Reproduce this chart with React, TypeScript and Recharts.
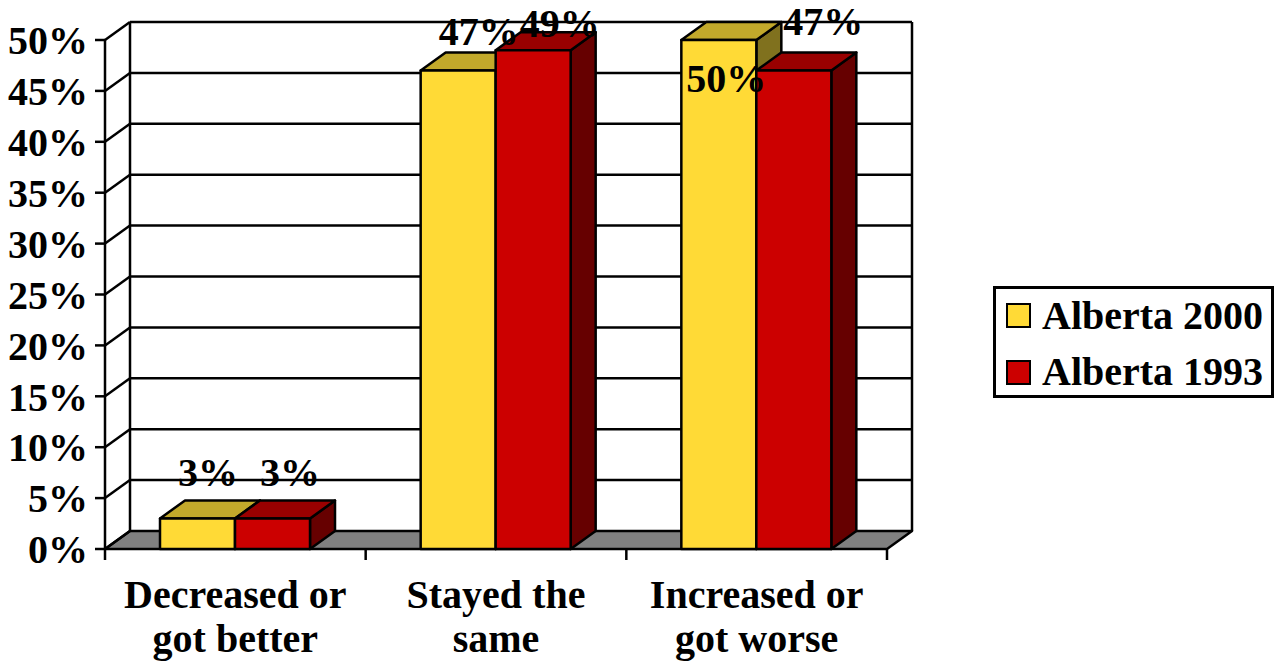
import { BarChart, Bar, XAxis, YAxis, CartesianGrid, Legend, LabelList } from 'recharts';

const CATEGORIES = ['Decreased or\ngot better', 'Stayed the\nsame', 'Increased or\ngot worse'];
const SERIES_NAMES = ['Alberta 2000', 'Alberta 1993'];
const ALBERTA_2000 = [0.03, 0.47, 0.5];
const ALBERTA_1993 = [0.03, 0.49, 0.47];
const Y_TICKS = [0, 0.05, 0.1, 0.15, 0.2, 0.25, 0.3, 0.35, 0.4, 0.45, 0.5];

const data = CATEGORIES.map((category, i) => ({
  category,
  a2000: ALBERTA_2000[i],
  a1993: ALBERTA_1993[i],
}));

// 3D depth of the walls and bars
const DX = 25;
const DY = 18;

const FONT = { fontFamily: '"Liberation Serif", "Times New Roman", serif', fontWeight: 700, fontSize: 40 };

const YELLOW = { front: '#FFDA36', top: '#C2A92B', side: '#80711E' };
const RED = { front: '#CC0000', top: '#990000', side: '#660000' };

// label nudges, mimicking the original's overlap avoidance
const SHIFT_2000 = [[-2, 0], [8, 6.5], [-5, 84]];
const SHIFT_1993 = [[5, 0], [14, 19], [17, -3.5]];

const pct = (v: number) => `${Math.round(v * 100)}%`;

const Bar3D = (props: any) => {
  const { x, y, width, height, faces } = props;
  if (width == null || height == null) return null;
  const common = { stroke: '#000', strokeWidth: 2.5, strokeLinejoin: 'round' as const };
  return (
    <g>
      <polygon
        points={`${x + width},${y} ${x + width + DX},${y - DY} ${x + width + DX},${y + height - DY} ${x + width},${y + height}`}
        fill={faces.side}
        {...common}
      />
      <polygon
        points={`${x},${y} ${x + DX},${y - DY} ${x + width + DX},${y - DY} ${x + width},${y}`}
        fill={faces.top}
        {...common}
      />
      <rect x={x} y={y} width={width} height={height} fill={faces.front} {...common} />
    </g>
  );
};

const makeLabel = (shifts: number[][]) => (props: any) => {
  const vb = props.viewBox && props.viewBox.width != null ? props.viewBox : props;
  const { x, y, width } = vb;
  const [sx, sy] = shifts[props.index] || [0, 0];
  return (
    <text x={x + width / 2 + DX / 2 + sx} y={y - DY - 14 + sy} textAnchor="middle" fill="#000" style={FONT}>
      {pct(props.value)}
    </text>
  );
};

// back wall, left wall and floor, drawn from the grid's own lines
const renderWall = (props: any) => {
  const { x, y, width, height, y1, key } = props;
  const line = { stroke: '#000', strokeWidth: 2.5 };
  const isFloor = Math.abs(y1 - (y + height)) < 0.5;
  const isTop = Math.abs(y1 - y) < 0.5;
  const n = CATEGORIES.length;
  return (
    <g key={key}>
      {isFloor ? (
        <polygon
          points={`${x},${y1} ${x + DX},${y1 - DY} ${x + width + DX},${y1 - DY} ${x + width},${y1}`}
          fill="#808080"
          stroke="#000"
          strokeWidth={2.5}
          strokeLinejoin="round"
        />
      ) : (
        <line x1={x + DX} y1={y1 - DY} x2={x + width + DX} y2={y1 - DY} {...line} />
      )}
      <line x1={x} y1={y1} x2={x + DX} y2={y1 - DY} {...line} />
      {isTop && (
        <>
          <line x1={x + DX} y1={y - DY} x2={x + DX} y2={y + height - DY} {...line} />
          <line x1={x + width + DX} y1={y - DY} x2={x + width + DX} y2={y + height - DY} {...line} />
        </>
      )}
      {isFloor &&
        Array.from({ length: n + 1 }, (_, i) => (
          <line key={i} x1={x + (i * width) / n} y1={y1} x2={x + (i * width) / n} y2={y1 + 11} {...line} />
        ))}
    </g>
  );
};

const CategoryTick = ({ x, y, payload }: any) => {
  const lines = String(payload.value).split('\n');
  return (
    <text x={x} y={y} textAnchor="middle" fill="#000" style={FONT}>
      {lines.map((l, i) => (
        <tspan key={i} x={x} dy={i === 0 ? 59 : 44}>
          {l}
        </tspan>
      ))}
    </text>
  );
};

const renderLegend = (props: any) => {
  const items = [...(props.payload || [])].sort(
    (a: any, b: any) => SERIES_NAMES.indexOf(a.value) - SERIES_NAMES.indexOf(b.value)
  );
  return (
    <div
      style={{
        width: 281,
        height: 112,
        boxSizing: 'border-box',
        border: '3px solid #000',
        background: '#fff',
        position: 'relative',
      }}
    >
      {items.map((entry: any, i: number) => (
        <div
          key={entry.value}
          style={{
            position: 'absolute',
            left: 10,
            top: 26.5 + i * 56.5,
            transform: 'translateY(-50%)',
            display: 'flex',
            alignItems: 'center',
            whiteSpace: 'nowrap',
          }}
        >
          <span
            style={{
              display: 'inline-block',
              width: 25,
              height: 25,
              boxSizing: 'border-box',
              border: '2.5px solid #000',
              background: entry.color,
            }}
          />
          <span style={{ ...FONT, marginLeft: 11, lineHeight: '40px', color: '#000' }}>{entry.value}</span>
        </div>
      ))}
    </div>
  );
};

export default function App() {
  return (
    <div style={{ position: 'absolute', left: 0, top: 0, background: '#fff' }}>
      <BarChart
        width={1281}
        height={667}
        data={data}
        margin={{ top: 40, right: 394, left: 0, bottom: 0 }}
        barGap={0}
        barSize={75}
      >
        <CartesianGrid vertical={false} horizontal={renderWall} />
        <XAxis
          dataKey="category"
          height={118}
          axisLine={false}
          tickLine={false}
          tickSize={0}
          tickMargin={0}
          interval={0}
          tick={<CategoryTick />}
        />
        <YAxis
          width={105}
          domain={[0, 0.5]}
          ticks={Y_TICKS}
          interval={0}
          tickFormatter={pct}
          tick={{ ...FONT, fill: '#000' }}
          axisLine={{ stroke: '#000', strokeWidth: 2.5 }}
          tickLine={{ stroke: '#000', strokeWidth: 2.5 }}
          tickSize={10}
          tickMargin={7}
        />
        <Legend
          layout="vertical"
          align="center"
          verticalAlign="middle"
          content={renderLegend}
          wrapperStyle={{ left: 993, top: 286, width: 281, height: 112 }}
        />
        <Bar
          dataKey="a2000"
          name={SERIES_NAMES[0]}
          fill={YELLOW.front}
          isAnimationActive={false}
          shape={(p: any) => <Bar3D {...p} faces={YELLOW} />}
        >
          <LabelList dataKey="a2000" content={makeLabel(SHIFT_2000)} />
        </Bar>
        <Bar
          dataKey="a1993"
          name={SERIES_NAMES[1]}
          fill={RED.front}
          isAnimationActive={false}
          shape={(p: any) => <Bar3D {...p} faces={RED} />}
        >
          <LabelList dataKey="a1993" content={makeLabel(SHIFT_1993)} />
        </Bar>
      </BarChart>
    </div>
  );
}
